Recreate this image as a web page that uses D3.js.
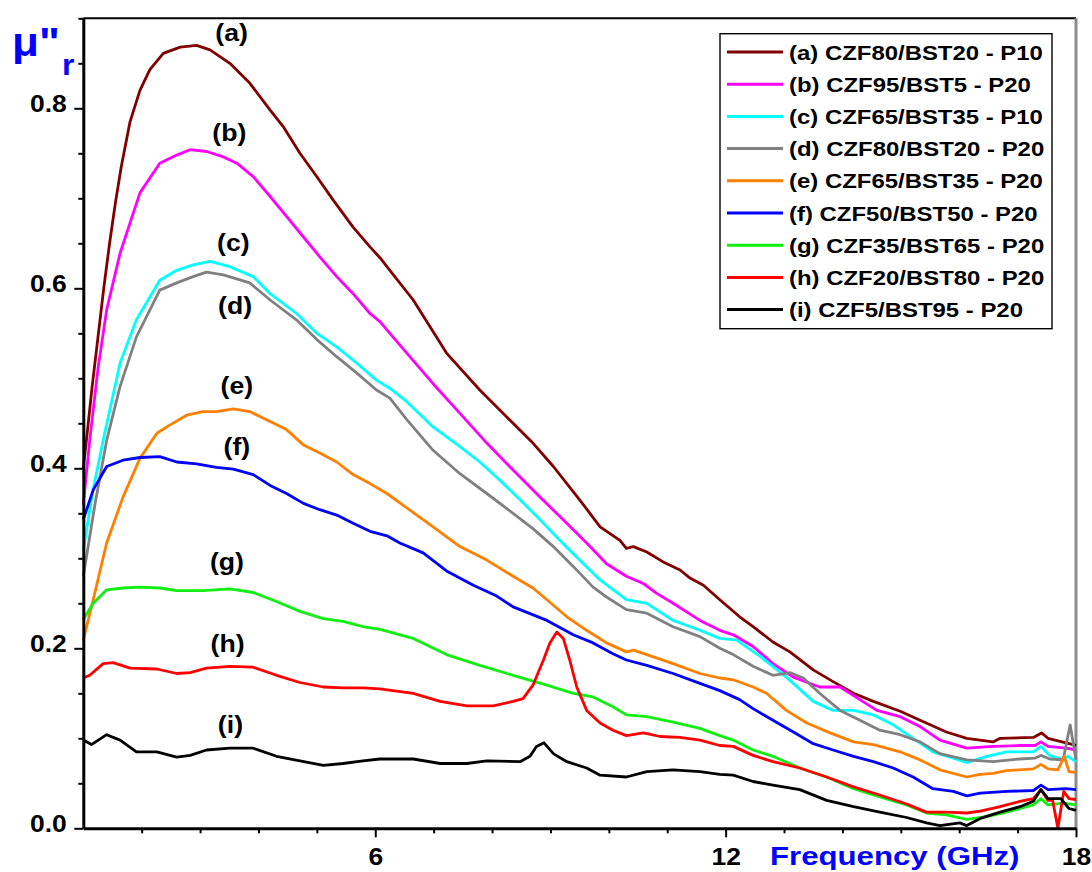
<!DOCTYPE html>
<html>
<head>
<meta charset="utf-8">
<script src="https://cdn.jsdelivr.net/npm/d3@7"></script>
<style>
    html, body { margin: 0; padding: 0; background: #fff; }
    svg { display: block; font-family: "Liberation Sans", Arial, sans-serif; font-weight: bold; }
</style>
</head>
<body>
<div class="d3-graph"></div>
<script>
// series names, colours and curve labels
var seriesNames = [
    "(a) CZF80/BST20 - P10", "(b) CZF95/BST5 - P20", "(c) CZF65/BST35 - P10",
    "(d) CZF80/BST20 - P20", "(e) CZF65/BST35 - P20", "(f) CZF50/BST50 - P20",
    "(g) CZF35/BST65 - P20", "(h) CZF20/BST80 - P20", "(i) CZF5/BST95 - P20"
];
var seriesColors = ["#800000", "#ff00ff", "#00ffff", "#808080", "#ff8000", "#0000ff", "#11ee11", "#ff0000", "#000000"];
var curveLabels = ["(a)", "(b)", "(c)", "(d)", "(e)", "(f)", "(g)", "(h)", "(i)"];
// label anchors in data units [GHz, mu'']
var curveLabelAt = [[3.54, 0.881], [3.50, 0.770], [3.57, 0.648], [3.60, 0.578], [3.63, 0.489],
    [3.63, 0.422], [3.46, 0.294], [3.47, 0.203], [3.52, 0.113]];

var xMajorTicks = [6, 12, 18];
var yMajorTicks = [0, 0.2, 0.4, 0.6, 0.8];

// [frequency GHz, mu''r]
var serA = [[1.0,0.40],[1.06,0.435],[1.15,0.49],[1.25,0.545],[1.35,0.60],[1.45,0.65],[1.55,0.695],[1.65,0.735],
    [1.8,0.785],[1.97,0.82],[2.14,0.843],[2.37,0.861],[2.66,0.868],[2.94,0.870],[3.17,0.865],[3.51,0.85],
    [3.85,0.828],[4.2,0.798],[4.42,0.78],[4.71,0.75],[5.0,0.724],[5.28,0.698],[5.62,0.668],[5.91,0.646],
    [6.08,0.634],[6.25,0.62],[6.65,0.587],[7.22,0.528],[7.79,0.487],[8.36,0.45],[8.7,0.428],[9.05,0.402],
    [9.5,0.365],[9.85,0.335],[10.19,0.32],[10.3,0.311],[10.42,0.313],[10.65,0.307],[10.93,0.296],
    [11.22,0.287],[11.39,0.278],[11.62,0.27],[11.9,0.254],[12.24,0.235],[12.47,0.224],[12.81,0.207],
    [13.1,0.196],[13.5,0.176],[13.84,0.163],[14.19,0.15],[14.53,0.141],[14.99,0.13],[15.33,0.12],
    [15.78,0.107],[16.13,0.1],[16.58,0.096],[16.7,0.1],[17.27,0.101],[17.41,0.106],[17.52,0.1],
    [17.95,0.093],[18,0.092]];
var serB = [[1.0,0.36],[1.11,0.431],[1.25,0.51],[1.4,0.576],[1.63,0.639],[1.97,0.706],[2.31,0.739],
    [2.6,0.748],[2.83,0.754],[3.11,0.752],[3.4,0.746],[3.63,0.739],[3.91,0.724],[4.2,0.702],[4.48,0.68],
    [4.77,0.657],[5.05,0.635],[5.34,0.613],[5.62,0.594],[5.91,0.572],[6.08,0.563],[6.25,0.55],[6.54,0.528],
    [6.99,0.494],[7.45,0.461],[7.91,0.428],[8.36,0.398],[8.82,0.368],[9.28,0.339],[9.62,0.317],
    [9.96,0.294],[10.3,0.28],[10.59,0.272],[10.82,0.261],[11.1,0.25],[11.56,0.231],[11.9,0.22],
    [12.13,0.215],[12.47,0.202],[12.81,0.183],[13.16,0.168],[13.61,0.157],[13.96,0.157],[14.3,0.143],
    [14.59,0.131],[14.99,0.124],[15.33,0.113],[15.67,0.098],[16.13,0.089],[16.58,0.091],[17.04,0.092],
    [17.3,0.092],[17.4,0.096],[17.52,0.091],[17.83,0.089],[18,0.087]];
var serC = [[1.0,0.309],[1.15,0.37],[1.34,0.431],[1.63,0.517],[1.91,0.565],[2.31,0.609],[2.6,0.62],
    [2.88,0.626],[3.17,0.63],[3.51,0.624],[3.91,0.613],[4.2,0.594],[4.65,0.572],[5.0,0.55],[5.34,0.535],
    [5.68,0.517],[6.02,0.498],[6.25,0.489],[6.54,0.474],[6.99,0.446],[7.45,0.424],[7.79,0.407],
    [8.13,0.387],[8.48,0.365],[8.82,0.343],[9.16,0.32],[9.5,0.298],[9.85,0.276],[10.3,0.254],
    [10.65,0.25],[11.1,0.231],[11.56,0.22],[11.9,0.211],[12.19,0.209],[12.59,0.191],[13.04,0.168],
    [13.5,0.141],[13.84,0.131],[14.19,0.131],[14.53,0.126],[14.87,0.115],[15.21,0.1],[15.55,0.085],
    [15.9,0.078],[16.13,0.073],[16.47,0.08],[16.81,0.085],[17.27,0.085],[17.4,0.091],[17.55,0.081],
    [17.78,0.076],[17.86,0.08],[18,0.074]];
var serD = [[1.0,0.28],[1.2,0.36],[1.4,0.431],[1.63,0.491],[1.91,0.546],[2.31,0.598],[2.6,0.606],
    [2.88,0.613],[3.11,0.618],[3.4,0.615],[3.85,0.606],[4.2,0.587],[4.65,0.565],[5.0,0.543],[5.34,0.524],
    [5.68,0.506],[6.02,0.487],[6.25,0.478],[6.54,0.454],[6.99,0.42],[7.45,0.394],[7.91,0.372],
    [8.36,0.35],[8.7,0.333],[9.05,0.313],[9.39,0.291],[9.73,0.268],[9.96,0.257],[10.3,0.243],
    [10.65,0.239],[11.1,0.224],[11.56,0.213],[11.9,0.2],[12.13,0.193],[12.47,0.18],[12.81,0.17],
    [13.1,0.173],[13.33,0.167],[13.61,0.15],[13.96,0.131],[14.3,0.12],[14.64,0.109],[14.99,0.104],
    [15.33,0.096],[15.67,0.083],[16.13,0.076],[16.58,0.074],[17.04,0.077],[17.3,0.078],[17.4,0.081],
    [17.55,0.077],[17.78,0.076],[17.9,0.115],[18,0.076]];
var serE = [[1.0,0.209],[1.17,0.254],[1.4,0.317],[1.68,0.368],[1.97,0.411],[2.26,0.439],[2.48,0.448],
    [2.77,0.459],[3.05,0.463],[3.28,0.463],[3.57,0.466],[3.85,0.463],[4.2,0.452],[4.48,0.443],
    [4.77,0.426],[5.05,0.417],[5.34,0.407],[5.62,0.393],[5.91,0.383],[6.2,0.372],[6.54,0.356],
    [6.99,0.335],[7.45,0.313],[7.91,0.298],[8.36,0.28],[8.7,0.267],[8.94,0.254],[9.28,0.235],
    [9.62,0.22],[9.96,0.206],[10.3,0.196],[10.42,0.198],[10.65,0.193],[11.1,0.183],[11.56,0.172],
    [11.9,0.167],[12.13,0.165],[12.47,0.157],[12.7,0.15],[13.04,0.131],[13.39,0.117],[13.79,0.106],
    [14.19,0.096],[14.53,0.093],[14.99,0.085],[15.33,0.076],[15.67,0.065],[16.13,0.057],[16.36,0.06],
    [16.58,0.061],[16.81,0.064],[17.27,0.066],[17.4,0.071],[17.52,0.066],[17.69,0.065],[17.8,0.08],
    [17.88,0.063],[18,0.062]];
var serF = [[1.0,0.343],[1.17,0.376],[1.4,0.402],[1.68,0.409],[1.97,0.412],[2.31,0.413],[2.6,0.407],
    [2.94,0.405],[3.28,0.401],[3.57,0.399],[3.91,0.393],[4.2,0.381],[4.48,0.372],[4.77,0.361],
    [5.05,0.354],[5.34,0.348],[5.62,0.339],[5.91,0.33],[6.2,0.325],[6.42,0.317],[6.82,0.306],
    [7.22,0.286],[7.68,0.27],[8.08,0.258],[8.36,0.246],[8.94,0.231],[9.39,0.215],[9.73,0.206],
    [10.07,0.194],[10.3,0.187],[10.65,0.181],[11.1,0.172],[11.56,0.161],[11.9,0.153],[12.24,0.143],
    [12.47,0.133],[12.81,0.12],[13.16,0.107],[13.5,0.094],[13.84,0.087],[14.19,0.08],[14.53,0.074],
    [14.87,0.067],[15.21,0.057],[15.55,0.044],[15.9,0.041],[16.13,0.036],[16.36,0.039],[16.81,0.041],
    [17.27,0.042],[17.4,0.048],[17.52,0.043],[17.83,0.044],[18,0.043]];
var serG = [[1.0,0.232],[1.17,0.25],[1.4,0.265],[1.68,0.267],[1.97,0.268],[2.31,0.267],[2.6,0.264],
    [3.05,0.264],[3.51,0.266],[3.91,0.262],[4.31,0.252],[4.71,0.241],[5.11,0.233],[5.45,0.23],
    [5.79,0.224],[6.08,0.221],[6.65,0.211],[7.22,0.193],[7.79,0.181],[8.36,0.17],[8.94,0.159],
    [9.39,0.15],[9.73,0.146],[10.07,0.135],[10.3,0.126],[10.65,0.124],[11.1,0.118],[11.56,0.111],
    [11.9,0.103],[12.13,0.098],[12.47,0.087],[12.81,0.08],[13.27,0.067],[13.73,0.057],[14.19,0.044],
    [14.64,0.035],[15.1,0.026],[15.44,0.017],[15.78,0.015],[16.13,0.01],[16.47,0.013],[16.81,0.018],
    [17.27,0.026],[17.4,0.033],[17.52,0.026],[17.78,0.028],[18,0.026]];
var serH = [[1.0,0.167],[1.11,0.17],[1.34,0.183],[1.51,0.184],[1.8,0.178],[2.26,0.177],[2.6,0.172],
    [2.83,0.173],[3.11,0.178],[3.51,0.18],[3.91,0.179],[4.31,0.17],[4.71,0.162],[5.11,0.157],
    [5.45,0.156],[5.79,0.156],[6.08,0.155],[6.65,0.15],[7.11,0.141],[7.57,0.136],[8.02,0.136],
    [8.36,0.141],[8.53,0.144],[8.7,0.159],[8.88,0.187],[8.99,0.206],[9.11,0.218],[9.22,0.211],
    [9.33,0.187],[9.45,0.157],[9.62,0.131],[9.85,0.117],[10.07,0.109],[10.3,0.103],[10.59,0.106],
    [10.88,0.102],[11.22,0.101],[11.56,0.098],[11.9,0.092],[12.13,0.091],[12.47,0.081],[12.81,0.074],
    [13.27,0.067],[13.73,0.057],[14.19,0.046],[14.64,0.037],[15.1,0.027],[15.44,0.018],[15.78,0.018],
    [16.13,0.017],[16.36,0.019],[16.7,0.024],[17.04,0.03],[17.27,0.033],[17.4,0.043],[17.52,0.031],
    [17.6,0.031],[17.69,0.0],[17.79,0.041],[17.88,0.033],[18,0.032]];
var serI = [[1.0,0.098],[1.14,0.093],[1.4,0.104],[1.63,0.098],[1.91,0.085],[2.26,0.085],[2.6,0.079],
    [2.83,0.081],[3.11,0.087],[3.51,0.089],[3.91,0.089],[4.31,0.08],[4.71,0.075],[5.11,0.07],
    [5.45,0.072],[5.79,0.075],[6.08,0.077],[6.65,0.077],[7.11,0.072],[7.57,0.072],[7.91,0.075],
    [8.48,0.074],[8.65,0.08],[8.76,0.091],[8.89,0.095],[9.05,0.083],[9.28,0.074],[9.62,0.067],
    [9.85,0.059],[10.3,0.057],[10.65,0.063],[11.1,0.065],[11.56,0.063],[11.9,0.06],[12.13,0.059],
    [12.47,0.052],[12.81,0.048],[13.27,0.043],[13.73,0.031],[14.19,0.024],[14.64,0.018],[15.1,0.012],
    [15.44,0.006],[15.67,0.003],[16.01,0.006],[16.13,0.003],[16.36,0.011],[16.7,0.018],[17.04,0.024],
    [17.27,0.03],[17.4,0.043],[17.52,0.033],[17.74,0.033],[17.88,0.022],[18,0.02]];

(function () {
    "use strict";

    var W = 1092, H = 872;
    var seriesValues = [serA, serB, serC, serD, serE, serF, serG, serH, serI];
    var stretch = "scale(1.15,1)"; // the original's text is a bit wide

    var svg = d3.select(".d3-graph").append("svg")
        .attr("width", W)
        .attr("height", H);

    var x = d3.scaleLinear().domain([1, 18]).range([83.3, 1076]);
    var y = d3.scaleLinear().domain([0, 0.9]).range([828.3, 18.3]);

    // frame: top black, right grey
    svg.append("line")
        .attr("x1", x(1)).attr("x2", x(18)).attr("y1", y(0.9)).attr("y2", y(0.9))
        .attr("stroke", "#000").attr("stroke-width", 2);
    svg.append("line")
        .attr("x1", x(18)).attr("x2", x(18)).attr("y1", y(0.9)).attr("y2", y(0))
        .attr("stroke", "#8c8c8c").attr("stroke-width", 3);

    // curves
    var line = d3.line()
        .x(function (d) { return x(d[0]); })
        .y(function (d) { return y(d[1]); });

    svg.append("g")
        .selectAll("path")
        .data(seriesValues)
        .enter().append("path")
        .attr("d", line)
        .attr("fill", "none")
        .attr("stroke", function (d, i) { return seriesColors[i]; })
        .attr("stroke-width", 2.8)
        .attr("stroke-linejoin", "round");

    // minor ticks
    var xMinor = d3.range(2, 18).filter(function (v) { return v % 6 !== 0; });
    var yMinor = d3.range(1, 19).map(function (i) { return i * 0.05; })
        .filter(function (v) { return Math.abs(v / 0.2 - Math.round(v / 0.2)) > 0.01; });

    svg.append("g")
        .attr("transform", "translate(0," + y(0) + ")")
        .call(d3.axisBottom(x).tickValues(xMinor).tickSize(5).tickSizeOuter(0).tickFormat(""))
        .call(function (g) { g.select(".domain").remove(); })
        .selectAll("line").attr("stroke-width", 2);

    svg.append("g")
        .attr("transform", "translate(" + x(1) + ",0)")
        .call(d3.axisLeft(y).tickValues(yMinor).tickSize(5).tickSizeOuter(0).tickFormat(""))
        .call(function (g) { g.select(".domain").remove(); })
        .selectAll("line").attr("stroke-width", 2);

    // major axes
    var xAxis = svg.append("g")
        .attr("class", "axis axis--x")
        .attr("transform", "translate(0," + y(0) + ")")
        .call(d3.axisBottom(x).tickValues(xMajorTicks).tickSize(9).tickSizeOuter(0));
    xAxis.select(".domain").attr("stroke-width", 3);
    xAxis.selectAll(".tick line").attr("stroke-width", 2);
    xAxis.selectAll(".tick text")
        .attr("y", 0).attr("dy", 0)
        .attr("transform", "translate(0,37) " + stretch)
        .attr("font-size", 23).attr("font-family", null).attr("fill", "#000");

    var yAxis = svg.append("g")
        .attr("class", "axis axis--y")
        .attr("transform", "translate(" + x(1) + ",0)")
        .call(d3.axisLeft(y).tickValues(yMajorTicks).tickSize(9).tickSizeOuter(0).tickFormat(d3.format(".1f")));
    yAxis.select(".domain").attr("stroke-width", 3);
    yAxis.selectAll(".tick line").attr("stroke-width", 2);
    yAxis.selectAll(".tick text")
        .attr("x", 0).attr("dy", 0)
        .attr("transform", "translate(-16.5,3.5) " + stretch)
        .attr("font-size", 23).attr("font-family", null).attr("fill", "#000");

    // axis titles
    var yTitle = svg.append("text")
        .attr("transform", "translate(12,56) scale(1.1,1)")
        .attr("fill", "#0000ff");
    yTitle.append("tspan").attr("font-size", 40).text("\u03bc\"");
    yTitle.append("tspan").attr("font-size", 29).attr("dx", 2).attr("dy", 19).text("r");

    svg.append("text")
        .attr("transform", "translate(770,865) scale(1.2,1)")
        .attr("font-size", 26)
        .attr("fill", "#0000ff")
        .text("Frequency (GHz)");

    // curve labels
    svg.append("g")
        .selectAll("text")
        .data(curveLabels)
        .enter().append("text")
        .attr("transform", function (d, i) {
            return "translate(" + x(curveLabelAt[i][0]) + "," + (y(curveLabelAt[i][1]) + 6) + ") scale(1.16,1)";
        })
        .attr("text-anchor", "middle")
        .attr("font-size", 23)
        .text(function (d) { return d; });

    // legend
    var legend = svg.append("g").attr("transform", "translate(720,33.7)");
    legend.append("rect")
        .attr("width", 332).attr("height", 295)
        .attr("fill", "#fff").attr("stroke", "#000").attr("stroke-width", 1.4);

    var rows = legend.selectAll("g.row")
        .data(seriesNames)
        .enter().append("g")
        .attr("class", "row")
        .attr("transform", function (d, i) { return "translate(0," + (18.3 + i * 32.2) + ")"; });

    rows.append("line")
        .attr("x1", 7).attr("x2", 63)
        .attr("stroke", function (d, i) { return seriesColors[i]; })
        .attr("stroke-width", 3);

    rows.append("text")
        .attr("transform", "translate(69,7.6) scale(1.14,1)")
        .attr("font-size", 21)
        .text(function (d) { return d; });
})();
</script>
</body>
</html>
